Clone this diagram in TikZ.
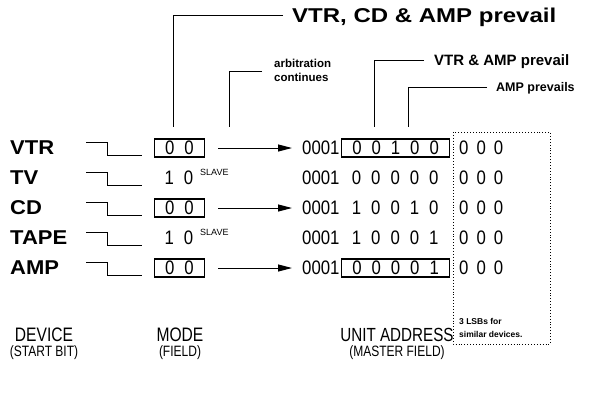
\documentclass[tikz,border=0pt]{standalone}
\usepackage{fontspec}
\setmainfont{Liberation Sans}
\newfontfamily\narrowfont[FakeStretch=0.8]{Liberation Sans}
\newfontfamily\digitfont[FakeStretch=0.86]{Liberation Sans}
\newfontfamily\widefont[FakeStretch=1.1]{Liberation Sans}
\newfontfamily\headfont[FakeStretch=1.2]{Liberation Sans}
\usetikzlibrary{arrows.meta,positioning}

\newcommand{\gap}{\hspace{10pt}}
\tikzset{
  devlabel/.style={font=\widefont\bfseries\fontsize{20}{20}\selectfont, anchor=west, inner sep=0pt},
  bits/.style={font=\digitfont\fontsize{19.5}{19.5}\selectfont, inner sep=0pt, text depth=0pt, minimum height=18pt},
  field/.style={bits, draw, line width=1.2pt},
  plain/.style={bits},
  slave/.style={font=\fontsize{9}{9}\selectfont, anchor=west, inner sep=0pt},
  lead/.style={line width=1pt},
  arr/.style={line width=1pt, -{Triangle[length=14pt,width=7pt]}},
  tag/.style={font=\bfseries\fontsize{15}{15}\selectfont, anchor=west, inner sep=0pt, text depth=0pt},
  caption/.style={font=\narrowfont\fontsize{19.5}{19.5}\selectfont, inner sep=0pt},
  subcaption/.style={font=\narrowfont\fontsize{15}{15}\selectfont, inner sep=0pt},
}

\begin{document}
\begin{tikzpicture}[x=1pt, y=-1pt]
  \useasboundingbox (0,0) rectangle (599,399);

  % devices with their start bit
  \foreach \d/\y in {VTR/148, TV/178, CD/208, TAPE/238, AMP/268}{
    \node[devlabel] (\d) at (10,\y) {\d};
    \draw[lead] (86,\y-6) -- (107,\y-6) -- (107,\y+7) -- (142,\y+7);
  }

  % mode field
  \node[field, minimum width=50pt] (mVTR) at (179.5,148) {0\gap0};
  \node[plain] (mTV) at (179,178) {1\gap0};
  \node[field, minimum width=50pt] (mCD) at (179.5,208) {0\gap0};
  \node[plain] (mTAPE) at (179,238) {1\gap0};
  \node[field, minimum width=50pt] (mAMP) at (179.5,268) {0\gap0};
  \node[slave] (sTV) at (200,172) {SLAVE};
  \node[slave] (sTAPE) at (200,232) {SLAVE};

  % unit address: fixed part, master field, 3 LSBs
  \foreach \d/\y/\f/\s in {VTR/148/{0\gap0\gap1\gap0\gap0}/field,
                           TV/178/{0\gap0\gap0\gap0\gap0}/plain,
                           CD/208/{1\gap0\gap0\gap1\gap0}/plain,
                           TAPE/238/{1\gap0\gap0\gap0\gap1}/plain,
                           AMP/268/{0\gap0\gap0\gap0\gap1}/field}{
    \node[bits, anchor=west] (a\d) at (302,\y) {0001};
    \node[\s, anchor=west, minimum width=108pt] (f\d) at (341,\y) {\f};
    \node[bits, anchor=west] (l\d) at (459,\y) {0\hspace{8pt}0\hspace{8pt}0};
  }

  % masters go on
  \foreach \d in {VTR, CD, AMP}
    \draw[arr, shorten <=13pt, shorten >=10pt] (m\d.east) -- (a\d.west);

  % 3 LSBs
  \draw[dotted, line width=0.9pt] (453,132) rectangle (550,344);
  \node[font=\bfseries\fontsize{8.5}{13}\selectfont, align=left, anchor=north west, inner sep=0pt]
    (lsb) at (459,318) {3 LSBs for\\similar devices.};

  % leaders
  \node[tag, font=\headfont\bfseries\fontsize{20}{20}\selectfont] (tAll) at (292,15) {VTR, CD \& AMP prevail};
  \coordinate (pAll) at (173,127);
  \draw[lead] ([xshift=-9pt]tAll.west) -| (pAll);

  \node[font=\bfseries\fontsize{11.5}{14}\selectfont, align=left, anchor=west, inner sep=0pt]
    (tArb) at (274,70) {arbitration\\continues};
  \coordinate (pArb) at (229,127);
  \draw[lead] (262,71) -| (pArb);

  \node[tag] (tVA) at (434,60) {VTR \& AMP prevail};
  \coordinate (pVA) at (374,127);
  \draw[lead] ([xshift=-10pt]tVA.west) -| (pVA);

  \node[tag, font=\bfseries\fontsize{12.5}{12.5}\selectfont] (tA) at (496,87) {AMP prevails};
  \coordinate (pA) at (408,127);
  \draw[lead] ([xshift=-9pt]tA.west) -| (pA);

  % captions
  \node[caption] (cDev) at (44,335) {DEVICE};
  \node[subcaption, below=3pt of cDev] {(START BIT)};
  \node[caption] (cMode) at (180,335) {MODE};
  \node[subcaption, below=3pt of cMode] {(FIELD)};
  \node[caption, font=\narrowfont\fontsize{19}{19}\selectfont] (cUnit) at (397,335) {UNIT ADDRESS};
  \node[subcaption, below=3pt of cUnit] {(MASTER FIELD)};
\end{tikzpicture}
\end{document}
